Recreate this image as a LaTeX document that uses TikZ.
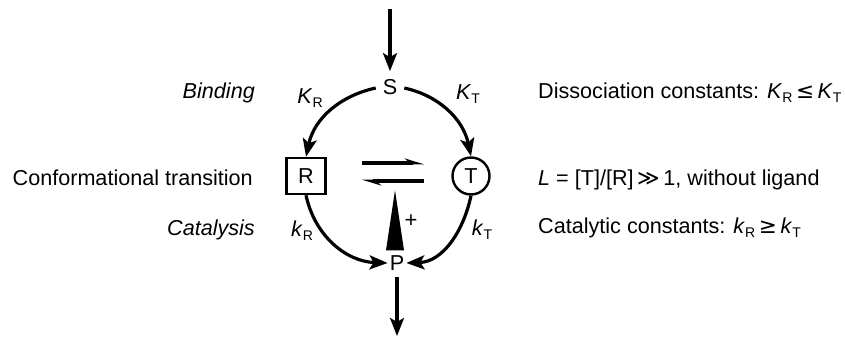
\documentclass[tikz,border=0pt]{standalone}
\usepackage{fontspec}
\setmainfont{Liberation Sans}
\newfontfamily\symfont{DejaVu Sans}
\usetikzlibrary{arrows.meta,calc}
\newcommand\sbs[1]{\raisebox{-0.35ex}{\fontsize{14}{14}\selectfont #1}}
\tikzset{
  lab/.style={inner sep=0pt,font=\fontsize{21.6}{24}\selectfont},
  spec/.style={inner sep=2pt,font=\fontsize{21.6}{24}\selectfont},
  conn/.style={line width=3.2pt,-{Stealth[length=18pt,width=14pt,inset=4pt]}},
  harp/.style={line width=3.2pt},
}
\begin{document}
\begin{tikzpicture}[x=1pt,y=1pt]
\useasboundingbox (0,0) rectangle (845,338);
% species
\node[spec] (S) at (390,251) {S};
\node[spec,draw,line width=2.4pt,minimum width=39pt,minimum height=36pt] (R) at (306,162) {R};
\node[spec,draw,circle,line width=2.4pt,minimum size=37pt,inner sep=0pt] (T) at (471,162) {T};
\node[spec] (P) at (397,75) {P};
\coordinate (in) at (390,329);
\coordinate (out) at (397,2);
% connectors
\draw[conn,shorten >=6pt] (in) -- (S.north);
\draw[conn,shorten <=4pt] (P.south) -- (out);
\draw[conn,shorten <=5pt] (S.west) to[out=192,in=78] (R.north);
\draw[conn,shorten <=5pt] (S.east) to[out=-12,in=102] (T.north);
\draw[conn] (R.south) to[out=-78,in=178] (P.west);
\draw[conn] (T.south) to[out=-102,in=2] (P.east);
% equilibrium half-arrows
\coordinate (e1) at (362,175);
\coordinate (e2) at (424,175);
\coordinate (e3) at (424,157);
\coordinate (e4) at (362,157);
\draw[harp,-{Stealth[left,length=15pt,width=9pt]}] (e1) -- (e2);
\draw[harp,-{Stealth[left,length=15pt,width=9pt]}] (e3) -- (e4);
% activation arrow
\fill ($(P.north)+(-11,3)$) -- ($(P.north)+(-2,63)$) -- ($(P.north)+(7,3)$) -- cycle;
\node[lab,font=\fontsize{22}{22}\selectfont] (plus) at (411,117) {+};
% rate labels
\node[lab] (KR) at (310,240) {\textit{K}\sbs{R}};
\node[lab] (KT) at (468,244) {\textit{K}\sbs{T}};
\node[lab] (kR) at (302,107) {\textit{k}\sbs{R}};
\node[lab] (kT) at (482,108) {\textit{k}\sbs{T}};
% left labels
\node[lab,anchor=east] (bind) at (255,245) {\textit{Binding}};
\node[lab,anchor=east] (conf) at (253,160) {Conformational transition};
\node[lab,anchor=east] (cat) at (255,108) {\textit{Catalysis}};
% right labels
\node[lab,anchor=west] (diss) at (538,245) {Dissociation constants: \textit{K}\sbs{R}\,{\symfont ≤}\,\textit{K}\sbs{T}};
\node[lab,anchor=west] (L) at (538,158) {\textit{L} = [T]/[R]\,{\symfont ≫}\,1, without ligand};
\node[lab,anchor=west] (catc) at (538,110) {Catalytic constants: \textit{k}\sbs{R}\,{\symfont ≥}\,\textit{k}\sbs{T}};
\end{tikzpicture}
\end{document}
